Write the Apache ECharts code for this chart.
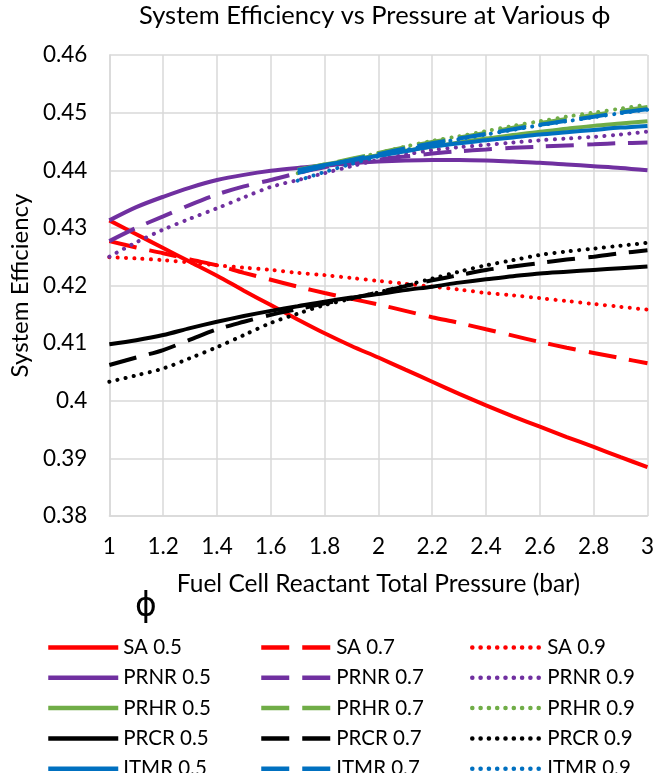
<!DOCTYPE html>
<html>
<head>
<meta charset="utf-8">
<script src="https://cdn.jsdelivr.net/npm/echarts@6/dist/echarts.min.js"></script>
<style>
html,body{margin:0;padding:0;background:#fff;}
#chart{width:657px;height:773px;}
</style>
</head>
<body>
<div id="chart"></div>
<script>
const pressure = [1.0,1.1,1.2,1.3,1.4,1.5,1.6,1.7,1.8,1.9,2.0,2.1,2.2,2.3,2.4,2.5,2.6,2.7,2.8,2.9,3.0];

const SA_05   = [0.4313,0.4289,0.4265,0.4241,0.4217,0.4191,0.4166,0.4141,0.4117,0.4095,0.4075,0.4054,0.4033,0.4012,0.3992,0.3973,0.3955,0.3937,0.3920,0.3902,0.3885];
const SA_07   = [0.4277,0.4266,0.4256,0.4245,0.4235,0.4222,0.4210,0.4198,0.4187,0.4177,0.4167,0.4156,0.4145,0.4135,0.4124,0.4113,0.4102,0.4092,0.4083,0.4074,0.4065];
const SA_09   = [0.4249,0.4247,0.4244,0.4240,0.4235,0.4231,0.4227,0.4222,0.4218,0.4213,0.4208,0.4203,0.4198,0.4193,0.4187,0.4183,0.4178,0.4173,0.4168,0.4163,0.4158];
const PRNR_05 = [0.4313,0.4336,0.4354,0.4370,0.4383,0.4392,0.4399,0.4404,0.4408,0.4412,0.4415,0.4417,0.4418,0.4418,0.4417,0.4415,0.4413,0.4410,0.4407,0.4404,0.4400];
const PRNR_07 = [0.4277,0.4300,0.4320,0.4340,0.4358,0.4372,0.4383,0.4395,0.4405,0.4412,0.4419,0.4424,0.4429,0.4433,0.4436,0.4439,0.4441,0.4443,0.4445,0.4447,0.4448];
const PRNR_09 = [0.4250,0.4275,0.4297,0.4316,0.4334,0.4353,0.4371,0.4383,0.4395,0.4407,0.4418,0.4427,0.4435,0.4440,0.4444,0.4448,0.4452,0.4455,0.4458,0.4462,0.4467];
const PRHR_05 = [null,null,null,null,null,null,null,0.4401,0.4410,0.4418,0.4426,0.4434,0.4441,0.4448,0.4455,0.4461,0.4467,0.4472,0.4477,0.4481,0.4485];
const PRHR_07 = [null,null,null,null,null,null,null,0.4400,0.4410,0.4420,0.4430,0.4440,0.4449,0.4457,0.4465,0.4474,0.4482,0.4489,0.4496,0.4503,0.4510];
const PRHR_09 = [null,null,null,null,null,null,null,0.4395,0.4408,0.4419,0.4430,0.4441,0.4451,0.4459,0.4468,0.4477,0.4485,0.4493,0.4500,0.4507,0.4514];
const PRCR_05 = [0.4098,0.4105,0.4114,0.4126,0.4137,0.4147,0.4156,0.4164,0.4172,0.4179,0.4185,0.4192,0.4198,0.4205,0.4211,0.4216,0.4221,0.4224,0.4227,0.4230,0.4233];
const PRCR_07 = [0.4062,0.4075,0.4088,0.4106,0.4124,0.4137,0.4149,0.4159,0.4169,0.4178,0.4188,0.4199,0.4209,0.4218,0.4227,0.4233,0.4239,0.4245,0.4250,0.4256,0.4261];
const PRCR_09 = [0.4033,0.4044,0.4056,0.4074,0.4093,0.4114,0.4135,0.4151,0.4166,0.4177,0.4188,0.4200,0.4212,0.4224,0.4235,0.4244,0.4253,0.4259,0.4264,0.4269,0.4274];
const ITMR_05 = [null,null,null,null,null,null,null,0.4400,0.4409,0.4417,0.4425,0.4433,0.4441,0.4447,0.4452,0.4457,0.4462,0.4466,0.4470,0.4474,0.4477];
const ITMR_07 = [null,null,null,null,null,null,null,0.4395,0.4407,0.4418,0.4428,0.4438,0.4447,0.4455,0.4463,0.4471,0.4479,0.4486,0.4493,0.4500,0.4506];
const ITMR_09 = [null,null,null,null,null,null,null,0.4382,0.4397,0.4411,0.4424,0.4435,0.4445,0.4454,0.4462,0.4470,0.4478,0.4485,0.4492,0.4499,0.4505];

const yTicks = {min:0.38, max:0.46, interval:0.01};
const xTicks = {min:1, max:3, interval:0.2};

const FONT = 'Lato';
const colors = {SA:'#FF0000', PRNR:'#7030A0', PRHR:'#70AD47', PRCR:'#000000', ITMR:'#0070C0'};
const styles = {
  '0.5': {type:'solid', cap:'butt'},
  '0.7': {type:[28,13], cap:'butt'},
  '0.9': {type:[0.1,8.2], cap:'round'}
};
const seriesDefs = [
  ['SA 0.5', SA_05, 'SA', '0.5'], ['SA 0.7', SA_07, 'SA', '0.7'], ['SA 0.9', SA_09, 'SA', '0.9'],
  ['PRNR 0.5', PRNR_05, 'PRNR', '0.5'], ['PRNR 0.7', PRNR_07, 'PRNR', '0.7'], ['PRNR 0.9', PRNR_09, 'PRNR', '0.9'],
  ['PRHR 0.5', PRHR_05, 'PRHR', '0.5'], ['PRHR 0.7', PRHR_07, 'PRHR', '0.7'], ['PRHR 0.9', PRHR_09, 'PRHR', '0.9'],
  ['PRCR 0.5', PRCR_05, 'PRCR', '0.5'], ['PRCR 0.7', PRCR_07, 'PRCR', '0.7'], ['PRCR 0.9', PRCR_09, 'PRCR', '0.9'],
  ['ITMR 0.5', ITMR_05, 'ITMR', '0.5'], ['ITMR 0.7', ITMR_07, 'ITMR', '0.7'], ['ITMR 0.9', ITMR_09, 'ITMR', '0.9']
];

const series = seriesDefs.map(([name, vals, grp, phi]) => ({
  name: name,
  type: 'line',
  symbol: 'none',
  smooth: 0.3,
  color: colors[grp],
  lineStyle: {width: 4, color: colors[grp], type: styles[phi].type, cap: styles[phi].cap},
  data: pressure.map((p, i) => [p, vals[i]]).filter(d => d[1] !== null),
  z: 2
}));

const legendCol = (left, phi) => ({
  orient: 'vertical',
  left: left,
  top: 637,
  height: 160,
  padding: 0,
  itemWidth: 70,
  itemHeight: 14,
  itemGap: 9.3,
  itemStyle: {opacity: 0},
  lineStyle: {width: 4.5},
  textStyle: {fontFamily: FONT, fontSize: 20.5, color: '#000', lineHeight: 20},
  data: ['SA','PRNR','PRHR','PRCR','ITMR'].map(g => g + ' ' + phi)
});

const chart = echarts.init(document.getElementById('chart'), null, {renderer: 'canvas'});
chart.setOption({
  animation: false,
  backgroundColor: '#fff',
  title: {
    text: 'System Efficiency vs Pressure at Various \u03D5',
    left: 139, top: 3, padding: 0,
    textStyle: {fontFamily: FONT, fontSize: 25.5, fontWeight: 'normal', color: '#000'}
  },
  grid: {left: 108, right: 4, top: 55, bottom: 257, containLabel: false},
  xAxis: {
    type: 'value', min: xTicks.min, max: xTicks.max, interval: xTicks.interval,
    name: 'Fuel Cell Reactant Total Pressure (bar)',
    nameLocation: 'middle', nameGap: 56,
    nameTextStyle: {fontFamily: FONT, fontSize: 24.5, color: '#000'},
    axisLine: {lineStyle: {color: '#d9d9d9', width: 1.5}},
    axisTick: {show: false},
    axisLabel: {fontFamily: FONT, fontSize: 22.5, color: '#000', margin: 19},
    splitLine: {lineStyle: {color: '#d9d9d9', width: 1.5}}
  },
  yAxis: {
    type: 'value', min: yTicks.min, max: yTicks.max, interval: yTicks.interval,
    name: 'System Efficiency',
    nameLocation: 'middle', nameGap: 76,
    nameTextStyle: {fontFamily: FONT, fontSize: 24, color: '#000'},
    axisLine: {show: true, lineStyle: {color: '#d9d9d9', width: 1.5}},
    axisTick: {show: false},
    axisLabel: {fontFamily: FONT, fontSize: 22.5, color: '#000', margin: 22},
    splitLine: {lineStyle: {color: '#d9d9d9', width: 1.5}}
  },
  legend: [legendCol(46, '0.5'), legendCol(259, '0.7'), legendCol(470, '0.9')],
  graphic: [{
    type: 'text', x: 146, y: 607,
    style: {text: '\u03D5', fontFamily: 'DejaVu Sans', fontSize: 33, fill: '#000', align: 'center', verticalAlign: 'middle'}
  }],
  series: series
});
</script>
</body>
</html>
